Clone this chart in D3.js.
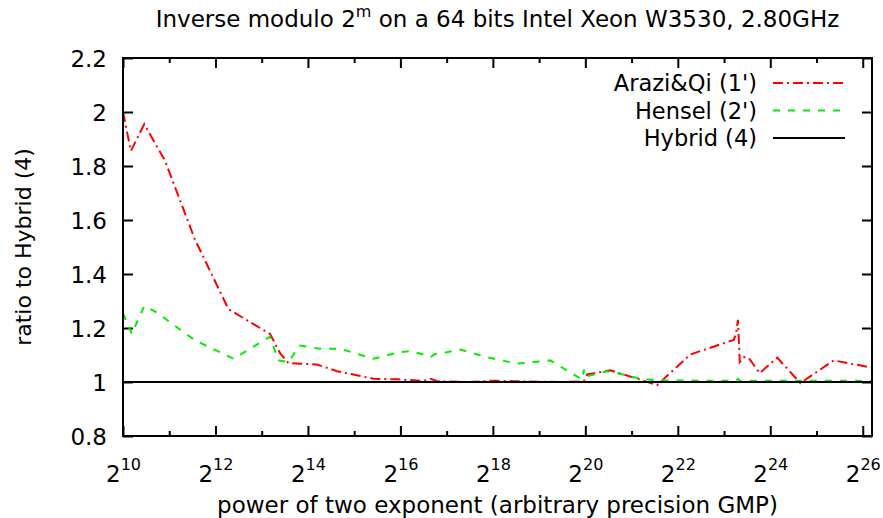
<!DOCTYPE html>
<html>
<head>
<meta charset="utf-8">
<script src="https://cdn.jsdelivr.net/npm/d3@7"></script>
<style>
  body { margin: 0; background: #fff; }
  text { font-family: "DejaVu Sans", sans-serif; fill: #000; }
</style>
</head>
<body>
<script>
'use strict';

// chart size
var width = 883;
var height = 518;
var margin = {top: 58, right: 11, bottom: 82, left: 123};

// exponent m (x = 2^m) and ratio values
var araziM = [10.0, 10.17, 10.46, 10.91, 11.55, 12.28, 13.18, 13.4, 13.58, 13.83, 14.19, 14.63, 15.42,
  15.92, 16.5, 16.65, 16.8, 17.5, 18.0, 18.5, 19.0, 19.5, 19.9, 19.97, 20.04, 20.54, 20.76, 21.19, 21.55,
  22.27, 23.21, 23.26, 23.3, 23.34, 23.43, 23.53, 23.77, 24.15, 24.65, 25.37, 26.2];
var araziRatio = [2.0, 1.856, 1.955, 1.819, 1.53, 1.27, 1.178, 1.106, 1.07, 1.068, 1.065, 1.04, 1.012,
  1.01, 1.004, 1.012, 1.003, 1.0, 1.005, 1.003, 1.001, 1.0, 1.002, 1.004, 1.028, 1.043, 1.031, 1.009, 0.988,
  1.102, 1.156, 1.18, 1.23, 1.074, 1.092, 1.09, 1.033, 1.09, 0.996, 1.08, 1.053];

var henselM = [10.0, 10.1, 10.19, 10.46, 10.73, 11.02, 11.56, 12.39, 13.18, 13.36, 13.58, 13.82, 14.26,
  14.7, 15.42, 15.96, 16.21, 16.55, 16.65, 16.75, 17.0, 17.29, 17.87, 18.52, 19.24, 19.93, 19.97, 20.0,
  20.47, 20.76, 21.19, 21.55, 22.5, 23.25, 23.3, 23.35, 24.5, 26.2];
var henselRatio = [1.254, 1.215, 1.178, 1.282, 1.258, 1.221, 1.154, 1.086, 1.168, 1.08, 1.074, 1.135, 1.123,
  1.123, 1.086, 1.11, 1.114, 1.1, 1.092, 1.104, 1.11, 1.12, 1.092, 1.068, 1.08, 1.009, 1.046, 1.02,
  1.04, 1.03, 1.012, 1.006, 1.005, 1.004, 1.012, 1.004, 1.005, 1.004];

var hybridM = [10.0, 26.2];
var hybridRatio = [1, 1];

var xDomain = [10, 26.2];
var yDomain = [0.8, 2.2];
var xMajorTicks = [10, 12, 14, 16, 18, 20, 22, 24, 26];
var xMinorTicks = [11, 13, 15, 17, 19, 21, 23, 25];
var yTicks = [0.8, 1, 1.2, 1.4, 1.6, 1.8, 2, 2.2];

var seriesNames = ["Arazi&Qi (1')", "Hensel (2')", "Hybrid (4)"];
var seriesColors = ["#ff0000", "#00ee00", "#000000"];
var seriesDash = ["10,4,2,4", "7,8", null];

var plotW = width - margin.left - margin.right;
var plotH = height - margin.top - margin.bottom;

var svg = d3.select("body").append("svg")
  .attr("width", width)
  .attr("height", height);

var g = svg.append("g")
  .attr("transform", "translate(" + margin.left + "," + margin.top + ")");

// log2 scale on the actual size, fed with 2^m
var x = d3.scaleLog().base(2)
  .domain(xDomain.map(function (m) { return Math.pow(2, m); }))
  .range([0, plotW]);

var y = d3.scaleLinear()
  .domain(yDomain)
  .range([plotH, 0]);

// title
svg.append("text")
  .attr("x", margin.left + plotW / 2)
  .attr("y", 27)
  .attr("text-anchor", "middle")
  .style("font-size", "23px")
  .text("Inverse modulo 2")
  .append("tspan")
  .attr("dy", -10)
  .style("font-size", "16px")
  .text("m")
  .append("tspan")
  .attr("dy", 10)
  .style("font-size", "23px")
  .text(" on a 64 bits Intel Xeon W3530, 2.80GHz");

// bottom axis, major ticks with 2^m labels
var xAxis = g.append("g")
  .attr("transform", "translate(0," + plotH + ")")
  .call(d3.axisBottom(x)
    .tickValues(xMajorTicks.map(function (m) { return Math.pow(2, m); }))
    .tickSize(-10)
    .tickPadding(0)
    .tickFormat(""));
xAxis.select(".domain").remove();

xAxis.selectAll(".tick").append("text")
  .attr("y", 46)
  .attr("text-anchor", "middle")
  .style("font-size", "23px")
  .each(function (d) {
    var t = d3.select(this);
    t.append("tspan").text("2");
    t.append("tspan").attr("dy", -12).style("font-size", "16px").text(Math.round(Math.log2(d)));
  });

// minor ticks bottom
g.append("g")
  .attr("transform", "translate(0," + plotH + ")")
  .call(d3.axisBottom(x)
    .tickValues(xMinorTicks.map(function (m) { return Math.pow(2, m); }))
    .tickSize(-5)
    .tickFormat(""))
  .select(".domain").remove();

// mirrored ticks on top
g.append("g")
  .call(d3.axisTop(x)
    .tickValues(xMajorTicks.map(function (m) { return Math.pow(2, m); }))
    .tickSize(-10)
    .tickFormat(""))
  .select(".domain").remove();
g.append("g")
  .call(d3.axisTop(x)
    .tickValues(xMinorTicks.map(function (m) { return Math.pow(2, m); }))
    .tickSize(-5)
    .tickFormat(""))
  .select(".domain").remove();

// left axis
var yAxis = g.append("g")
  .call(d3.axisLeft(y)
    .tickValues(yTicks)
    .tickSize(-10)
    .tickPadding(16)
    .tickFormat(d3.format("")));
yAxis.select(".domain").remove();
yAxis.selectAll("text")
  .style("font-size", "23px")
  .attr("dy", "0.36em");

// right mirrored ticks
g.append("g")
  .attr("transform", "translate(" + plotW + ",0)")
  .call(d3.axisRight(y)
    .tickValues(yTicks)
    .tickSize(-10)
    .tickFormat(""))
  .select(".domain").remove();

g.selectAll(".tick line")
  .attr("stroke", "#000")
  .attr("stroke-width", 2);

// axis titles
svg.append("text")
  .attr("x", margin.left + plotW / 2)
  .attr("y", 513)
  .attr("text-anchor", "middle")
  .style("font-size", "23px")
  .text("power of two exponent (arbitrary precision GMP)");

svg.append("text")
  .attr("transform", "translate(31," + (margin.top + plotH / 2) + ") rotate(-90)")
  .attr("text-anchor", "middle")
  .style("font-size", "22px")
  .text("ratio to Hybrid (4)");

// curves
var line = d3.line()
  .x(function (d) { return x(Math.pow(2, d[0])); })
  .y(function (d) { return y(d[1]); });

var series = [
  d3.zip(araziM, araziRatio),
  d3.zip(henselM, henselRatio),
  d3.zip(hybridM, hybridRatio)
];

g.selectAll(".curve")
  .data(series)
  .enter()
  .append("path")
  .attr("class", "curve")
  .attr("d", line)
  .attr("fill", "none")
  .attr("stroke", function (d, i) { return seriesColors[i]; })
  .attr("stroke-width", 2)
  .attr("stroke-dasharray", function (d, i) { return seriesDash[i]; });

// frame
g.append("rect")
  .attr("width", plotW)
  .attr("height", plotH)
  .attr("fill", "none")
  .attr("stroke", "#000")
  .attr("stroke-width", 2);

// legend
var legend = svg.append("g")
  .selectAll("g")
  .data(seriesNames)
  .enter()
  .append("g")
  .attr("transform", function (d, i) { return "translate(0," + (83 + i * 27.5) + ")"; });

legend.append("text")
  .attr("x", 757)
  .attr("dy", "0.36em")
  .attr("text-anchor", "end")
  .style("font-size", "22.5px")
  .text(function (d) { return d; });

legend.append("line")
  .attr("x1", 773)
  .attr("x2", 845)
  .attr("stroke", function (d, i) { return seriesColors[i]; })
  .attr("stroke-width", 2)
  .attr("stroke-dasharray", function (d, i) { return seriesDash[i]; });
</script>
</body>
</html>
